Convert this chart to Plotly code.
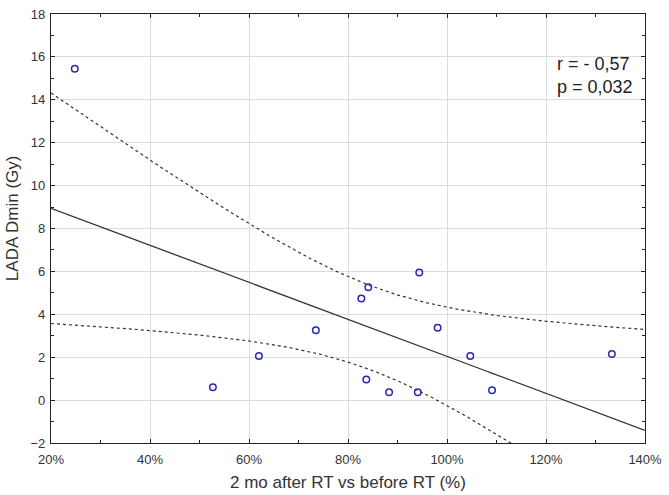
import numpy as np
import plotly.graph_objects as go

# Data (x as fraction of baseline, y in Gy)
x_vals = [0.248, 0.527, 0.620, 0.735, 0.827, 0.841, 0.944, 0.981, 0.837, 0.883, 0.941, 1.047, 1.091, 1.333]
y_vals = [15.45, 0.6, 2.06, 3.26, 4.74, 5.26, 5.95, 3.37, 0.96, 0.37, 0.37, 2.06, 0.46, 2.15]
x_ticks = [0.2, 0.4, 0.6, 0.8, 1.0, 1.2, 1.4]
y_ticks = [-2, 0, 2, 4, 6, 8, 10, 12, 14, 16, 18]
stat_text = "r = - 0,57<br>p = 0,032"
x_title = "2 mo after RT vs before RT (%)"
y_title = "LADA Dmin (Gy)"
T_CRIT = 2.179  # t(0.975, df=12)

x = np.array(x_vals)
y = np.array(y_vals)
n = len(x)
b, a = np.polyfit(x, y, 1)
xs = np.linspace(0.2, 1.4, 200)
yhat = a + b * xs
resid = y - (a + b * x)
s = np.sqrt(np.sum(resid ** 2) / (n - 2))
sxx = np.sum((x - x.mean()) ** 2)
half = T_CRIT * s * np.sqrt(1 / n + (xs - x.mean()) ** 2 / sxx)

FONT = "Liberation Sans, Arial"
line_col = "#333333"
fig = go.Figure()
fig.add_trace(go.Scatter(x=xs, y=yhat + half, mode="lines",
                         line=dict(color=line_col, width=1.2, dash="3px,3px")))
fig.add_trace(go.Scatter(x=xs, y=yhat - half, mode="lines",
                         line=dict(color=line_col, width=1.2, dash="3px,3px")))
fig.add_trace(go.Scatter(x=xs, y=yhat, mode="lines",
                         line=dict(color=line_col, width=1.3)))
fig.add_trace(go.Scatter(x=x_vals, y=y_vals, mode="markers",
                         marker=dict(symbol="circle-open", size=6.5, color="#2828a8",
                                     line=dict(width=1.5, color="#2828a8"))))

axis_common = dict(
    showline=True, linecolor="#222222", linewidth=1.2, mirror="allticks",
    ticks="inside", ticklen=4, tickcolor="#222222",
    showgrid=True, gridcolor="#dcdcdc", gridwidth=1, zeroline=False,
    ticklabeloverflow="allow",
    tickfont=dict(family=FONT, size=13, color="#333333"),
)
fig.update_xaxes(range=[0.2, 1.4], tickvals=x_ticks, tickformat=".0%", ticklabelstandoff=4,
                 minor=dict(ticks="inside", ticklen=3, dtick=0.1, tickcolor="#222222", showgrid=False),
                 **axis_common)
fig.update_yaxes(range=[-2, 18], tickvals=y_ticks, ticklabelstandoff=2,
                 minor=dict(ticks="inside", ticklen=3, dtick=1, tickcolor="#222222", showgrid=False),
                 **axis_common)
fig.add_annotation(x=0.983, y=0.912, xref="paper", yref="paper", xanchor="right", yanchor="top",
                   text=stat_text, showarrow=False, align="left",
                   font=dict(family=FONT, size=18, color="#222222"))
fig.add_annotation(x=0.5, y=-0.092, xref="paper", yref="paper", xanchor="center", yanchor="middle",
                   text=x_title, showarrow=False,
                   font=dict(family=FONT, size=17, color="#333333"))
fig.add_annotation(x=-0.065, y=0.525, xref="paper", yref="paper", xanchor="center", yanchor="middle",
                   text=y_title, showarrow=False, textangle=-90,
                   font=dict(family=FONT, size=17, color="#333333"))
fig.update_layout(width=669, height=495, showlegend=False,
                  plot_bgcolor="white", paper_bgcolor="white",
                  margin=dict(l=51, r=19, t=7, b=52))
fig.write_html("out.html", config={"displayModeBar": False},
               post_script="document.body.style.margin='0';document.body.style.padding='0';")
